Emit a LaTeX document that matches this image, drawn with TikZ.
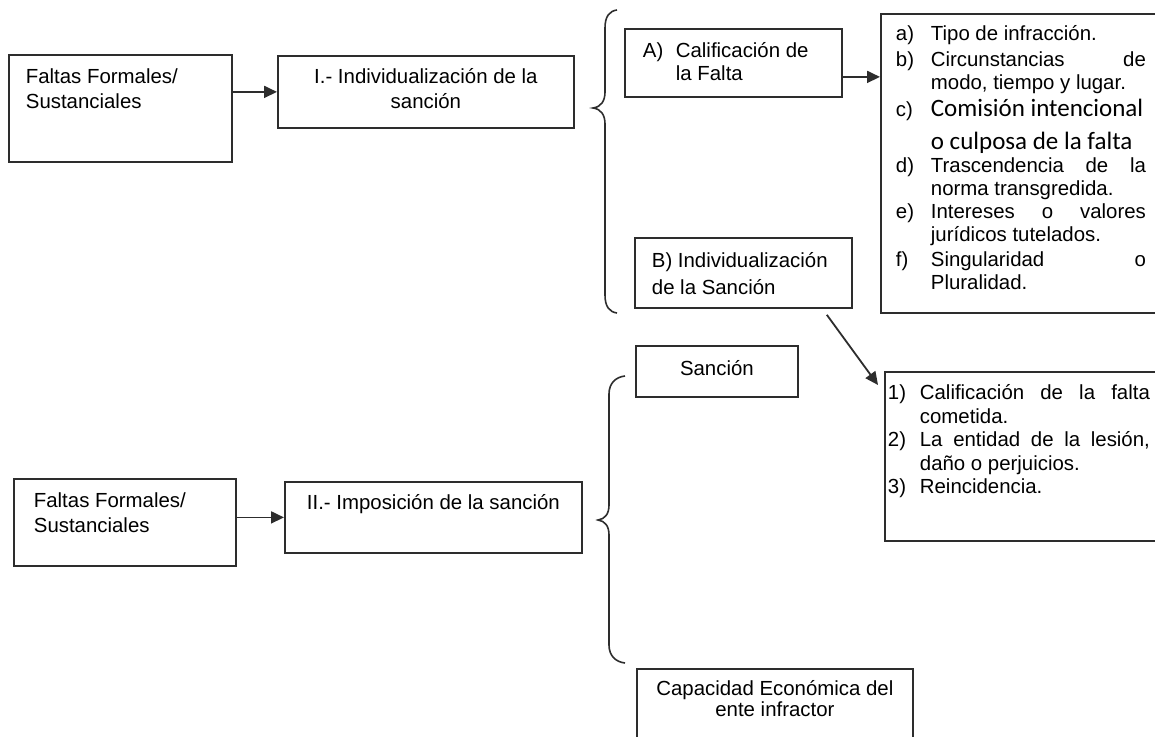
\documentclass[tikz,border=0pt]{standalone}
\usepackage{fontspec}
\setmainfont{Liberation Sans}
\newfontfamily\calibrifont{Carlito}
\usetikzlibrary{arrows.meta,positioning}
\definecolor{trazo}{RGB}{45,45,45}

% box content: width, height, text (top aligned)
\newcommand{\boxtext}[3]{\parbox[c][#2][t]{#1}{#3}}
% list items with a fixed label column
\newcommand{\itm}[2]{\makebox[17.5pt][l]{#1}#2}
\newcommand{\itmb}[2]{\makebox[16pt][l]{#1}#2}
\newcommand{\calib}[1]{{\calibrifont\fontsize{12.5}{15}\selectfont #1}}

\begin{document}
\begin{tikzpicture}[x=0.5pt,y=-0.5pt,
    caja/.style={draw=trazo,line width=0.9pt,inner sep=0pt,anchor=north west},
    flecha/.style={draw=trazo,line width=0.9pt,-{Triangle[length=6.5pt,width=6pt]}},
    llave/.style={draw=trazo,line width=0.8pt},
    every node/.style={font=\fontsize{10.2}{12.5}\selectfont}]

\useasboundingbox (0,0) rectangle (1155,737);
\clip (0,0) rectangle (1155,737);

% First row
\node[caja] (b1) at (8,54) {\boxtext{111.5pt}{53.5pt}{\leftskip=8.5pt\rule{0pt}{14.5pt}Faltas Formales/\\Sustanciales}};
\node[caja] (b2) at (277,55) {\boxtext{148pt}{36pt}{\centering\rule{0pt}{14pt}I.- Individualización de la\\sanción}};
\draw[flecha] (b1.east |- b2.west) -- (b2.west);

% Brace of the first row
\draw[llave] (617,10) .. controls (609,11) and (605,17) .. (605,28) -- (605,92)
    .. controls (605,101) and (601,107) .. (593,108)
    .. controls (601,109) and (605,115) .. (605,124) -- (605,295)
    .. controls (605,306) and (609,312) .. (617,313);

% A) and its list
\node[caja] (bA) at (624,28) {\boxtext{108.5pt}{34pt}{\leftskip=9pt\baselineskip=11.5pt\rule{0pt}{14.5pt}\makebox[16.5pt][l]{A)}Calificación de\\\hspace*{16.5pt}la Falta}};
\node[caja] (lst) at (880,13) {\boxtext{150pt}{149.5pt}{\leftskip=7.5pt\baselineskip=11.5pt
    \rule{0pt}{13.5pt}\itm{a)}{Tipo de infracción.}\par
    \vspace{1.5pt}
    \itm{b)}{\makebox[107.5pt][s]{Circunstancias de}}\par
    \itm{}{modo, tiempo y lugar.}\par
    \vspace{2pt}
    \itm{c)}{\calib{Comisión intencional}}\par
    \vspace{5pt}
    \itm{}{\calib{o culposa de la falta}}\par
    \itm{d)}{\makebox[107.5pt][s]{Trascendencia de la}}\par
    \itm{}{norma transgredida.}\par
    \itm{e)}{\makebox[107.5pt][s]{Intereses o valores}}\par
    \itm{}{jurídicos tutelados.}\par
    \vspace{1pt}
    \itm{f)}{\makebox[107.5pt][s]{Singularidad o}}\par
    \itm{}{Pluralidad.}}};
\draw[flecha] ([yshift=-7]bA.east) -- ([yshift=-7]bA.east -| lst.west);

% B) and its list
\node[caja] (bB) at (634,237) {\boxtext{108.5pt}{35pt}{\leftskip=8.5pt\baselineskip=13.5pt\rule{0pt}{15pt}B) Individualización\\de la Sanción}};
\node[caja] (res) at (884,371) {\boxtext{148pt}{84.5pt}{\leftskip=1.5pt\baselineskip=11.75pt
    \rule{0pt}{14pt}\itmb{1)}{\makebox[115pt][s]{Calificación de la falta}}\par
    \itmb{}{cometida.}\par
    \itmb{2)}{\makebox[115pt][s]{La entidad de la lesión,}}\par
    \itmb{}{daño o perjuicios.}\par
    \itmb{3)}{Reincidencia.}}};
\draw[flecha] ([shift={(-26,6)}]bB.south east) -- ([shift={(-6,14)}]res.north west);

% Second row
\node[caja] (b3) at (13,478) {\boxtext{111pt}{43.5pt}{\leftskip=10pt\rule{0pt}{14.5pt}Faltas Formales/\\Sustanciales}};
\node[caja] (b4) at (284,481) {\boxtext{148.5pt}{35.5pt}{\centering\rule{0pt}{14pt}II.- Imposición de la sanción}};
\draw[flecha] (b3.east |- b4.west) -- (b4.west);

% Brace of the second row
\draw[llave] (625,376) .. controls (616,377) and (609,383) .. (609,394) -- (609,505)
    .. controls (609,514) and (605,519) .. (598,520)
    .. controls (605,521) and (609,526) .. (609,535) -- (609,645)
    .. controls (609,656) and (616,662) .. (625,663);

\node[caja] (bS) at (635,345) {\boxtext{81pt}{25.5pt}{\centering\rule{0pt}{15pt}Sanción}};
\node[caja] (bC) at (636,668) {\boxtext{138pt}{41pt}{\centering\baselineskip=10.5pt\rule{0pt}{13.5pt}Capacidad Económica del\\ente infractor}};

\end{tikzpicture}
\end{document}
